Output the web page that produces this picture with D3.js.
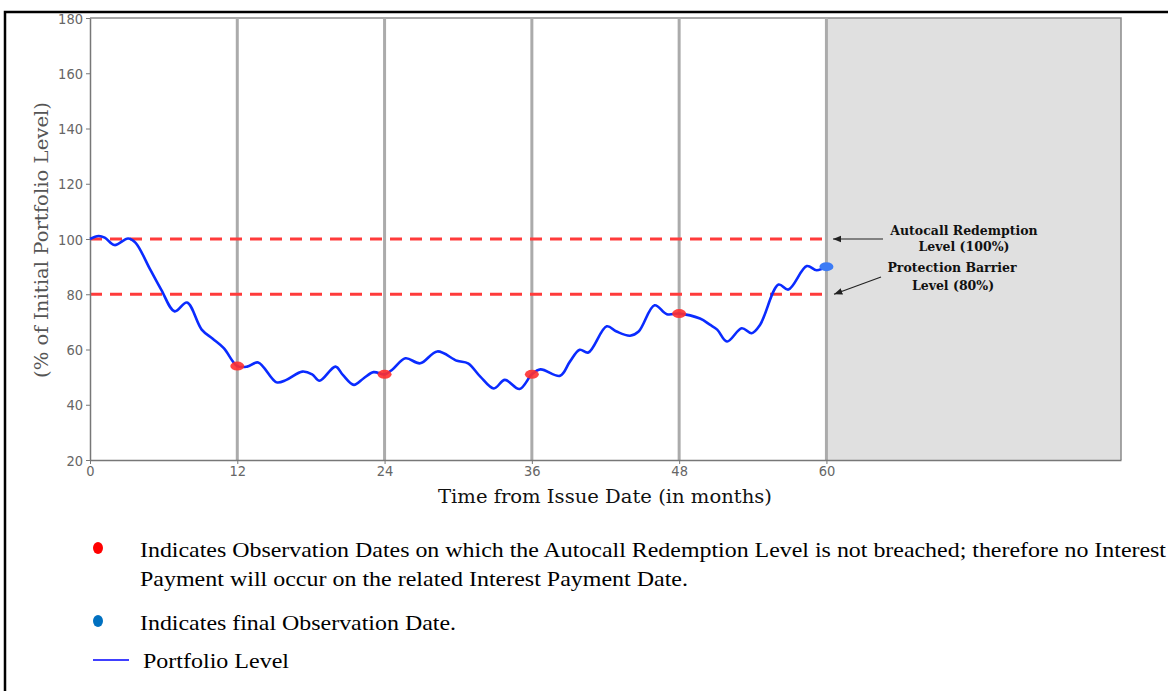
<!DOCTYPE html>
<html>
<head>
<meta charset="utf-8">
<script src="https://cdn.jsdelivr.net/npm/d3@7"></script>
<style>
  body { margin: 0; background: #fff; }
  svg { display: block; }
</style>
</head>
<body>
<svg id="chart" width="1168" height="691"></svg>
<script>
// portfolio path, months vs % of initial level
var months = [0, 0.7, 1.2, 2.0, 3.1, 3.7, 4.9, 5.8, 6.9, 7.9, 9.1, 10.0, 10.9, 12, 12.8, 13.7, 15.2, 16, 17.3, 18.1,
  18.7, 20, 20.6, 21.5, 22.3, 23.1, 24, 24.6, 25.7, 26.9, 28.3, 29.9, 30.8, 31.8, 32.9, 33.8, 35, 36, 36.7, 38.3,
  39.1, 39.9, 40.6, 42.1, 42.9, 44, 44.7, 46, 47, 48, 49.7, 50.5, 51.1, 51.9, 53.1, 53.9, 54.6, 56.1, 56.9, 58.4, 59.2, 60];
var levels = [100, 101.1, 100.5, 97.8, 100.2, 98.7, 89, 81.7, 73.8, 77, 67.2, 63.9, 60.5, 54, 53.8, 55.3, 48.1, 49, 52, 51,
  48.7, 53.8, 50.8, 47.2, 49.6, 51.8, 51, 52.6, 56.8, 55, 59.3, 55.9, 55, 50.2, 45.9, 49, 45.7, 51, 52.8, 50.5,
  55.6, 59.9, 58.9, 68.4, 66.5, 65, 66.5, 76, 72.8, 73, 71.2, 69, 67.2, 62.9, 67.7, 65.9, 69, 83.5, 81.7, 90.2, 88.7, 90];
var obsMonths = [12, 24, 36, 48];
var obsLevels = [54, 51, 51, 73];
var finalMonth = [60];
var finalLevel = [90];
var barriers = [100, 80];
var xTicks = [0, 12, 24, 36, 48, 60];
var yTicks = [20, 40, 60, 80, 100, 120, 140, 160, 180];

var svg = d3.select("#chart");
var x = d3.scaleLinear().domain([0, 84]).range([90, 1121]);
var y = d3.scaleLinear().domain([20, 180]).range([460, 18]);

// outer box (only left and top show)
svg.append("path").attr("d", "M5 691 L5 12 L1168 12").attr("fill", "none").attr("stroke", "#000").attr("stroke-width", 2.5);

// shaded region after maturity
svg.append("rect")
  .attr("x", x(60)).attr("y", y(180)).attr("width", x(84) - x(60)).attr("height", y(20) - y(180))
  .attr("fill", "#e0e0e0");

// plot frame top/right
svg.append("path")
  .attr("d", "M" + x(0) + " " + y(180) + " L" + x(84) + " " + y(180) + " L" + x(84) + " " + y(20))
  .attr("fill", "none").attr("stroke", "#8a8a8a").attr("stroke-width", 1.5);

// vertical lines at observation dates
svg.append("g").selectAll("line").data(xTicks.slice(1)).join("line")
  .attr("x1", d => x(d)).attr("x2", d => x(d))
  .attr("y1", y(180)).attr("y2", y(20))
  .attr("stroke", "#ababab").attr("stroke-width", 3);

// barrier lines
svg.append("g").selectAll("line").data(barriers).join("line")
  .attr("x1", x(0)).attr("x2", x(60))
  .attr("y1", d => y(d)).attr("y2", d => y(d))
  .attr("stroke", "#ff3b3b").attr("stroke-width", 3).attr("stroke-dasharray", "12,8");

// axes
var yAxis = svg.append("g").attr("transform", "translate(" + x(0) + ",0)")
  .call(d3.axisLeft(y).tickValues(yTicks).tickSize(4).tickSizeOuter(0).tickPadding(3));
var xAxis = svg.append("g").attr("transform", "translate(0," + y(20) + ")")
  .call(d3.axisBottom(x).tickValues(xTicks).tickSize(4).tickSizeOuter(0).tickPadding(2));
[yAxis, xAxis].forEach(function(a) {
  a.select(".domain").attr("stroke", "#777").attr("stroke-width", 1.5);
  a.selectAll(".tick line").attr("stroke", "#777");
  a.selectAll(".tick text").attr("fill", "#666").attr("font-family", "DejaVu Sans Condensed, DejaVu Sans").attr("font-size", 14.5);
});
yAxis.selectAll(".tick text").attr("dy", "0.36em");

// portfolio line
var pts = months.map((m, i) => [m, levels[i]]);
var line = d3.line().x(d => x(d[0])).y(d => y(d[1])).curve(d3.curveCatmullRom.alpha(0.5));
svg.append("path").datum(pts).attr("d", line)
  .attr("fill", "none").attr("stroke", "#0a2bff").attr("stroke-width", 2.6).attr("stroke-linejoin", "round");

// observation markers
svg.append("g").selectAll("ellipse").data(obsMonths).join("ellipse")
  .attr("cx", d => x(d)).attr("cy", (d, i) => y(obsLevels[i]))
  .attr("rx", 7).attr("ry", 4.5).attr("fill", "#ff3030").attr("opacity", 0.9);
svg.append("g").selectAll("ellipse").data(finalMonth).join("ellipse")
  .attr("cx", d => x(d)).attr("cy", (d, i) => y(finalLevel[i]))
  .attr("rx", 7).attr("ry", 4.5).attr("fill", "#3d7cf5");

// axis titles
svg.append("text").attr("transform", "translate(48,240) rotate(-90)")
  .attr("text-anchor", "middle").attr("font-family", "DejaVu Serif").attr("font-size", 18).attr("fill", "#555")
  .attr("textLength", 276).attr("lengthAdjust", "spacingAndGlyphs")
  .text("(% of Initial Portfolio Level)");
svg.append("text").attr("x", 605).attr("y", 503)
  .attr("text-anchor", "middle").attr("font-family", "DejaVu Serif").attr("font-size", 18).attr("fill", "#111")
  .attr("textLength", 334).attr("lengthAdjust", "spacingAndGlyphs")
  .text("Time from Issue Date (in months)");

// annotations
svg.append("defs").append("marker").attr("id", "arr").attr("viewBox", "0 0 10 10")
  .attr("refX", 10).attr("refY", 5).attr("markerWidth", 7).attr("markerHeight", 7).attr("orient", "auto")
  .append("path").attr("d", "M0 1 L10 5 L0 9 z").attr("fill", "#222");
svg.append("line").attr("x1", 883).attr("y1", y(100)).attr("x2", 833).attr("y2", y(100))
  .attr("stroke", "#222").attr("stroke-width", 1.2).attr("marker-end", "url(#arr)");
svg.append("line").attr("x1", 881).attr("y1", 277).attr("x2", 834).attr("y2", y(80))
  .attr("stroke", "#222").attr("stroke-width", 1.2).attr("marker-end", "url(#arr)");
var notes = [["Autocall Redemption", 964, 235], ["Level (100%)", 964, 251], ["Protection Barrier", 952, 272], ["Level (80%)", 953, 290]];
svg.append("g").selectAll("text").data(notes).join("text")
  .attr("x", d => d[1]).attr("y", d => d[2]).attr("text-anchor", "middle")
  .attr("font-family", "DejaVu Serif").attr("font-weight", "bold").attr("font-size", 12.5).attr("fill", "#111")
  .text(d => d[0]);

// legend below the chart
var lg = svg.append("g").attr("font-family", "Liberation Serif").attr("font-size", 22).attr("fill", "#000");
lg.append("ellipse").attr("cx", 98).attr("cy", 548).attr("rx", 5).attr("ry", 6).attr("fill", "#ff0000");
lg.append("text").attr("x", 140).attr("y", 557).attr("textLength", 1026).attr("lengthAdjust", "spacingAndGlyphs")
  .text("Indicates Observation Dates on which the Autocall Redemption Level is not breached; therefore no Interest");
lg.append("text").attr("x", 140).attr("y", 586).attr("textLength", 548).attr("lengthAdjust", "spacingAndGlyphs")
  .text("Payment will occur on the related Interest Payment Date.");
lg.append("ellipse").attr("cx", 98).attr("cy", 621).attr("rx", 5).attr("ry", 6).attr("fill", "#0070c0");
lg.append("text").attr("x", 140).attr("y", 630).attr("textLength", 316).attr("lengthAdjust", "spacingAndGlyphs")
  .text("Indicates final Observation Date.");
lg.append("line").attr("x1", 93).attr("x2", 129).attr("y1", 660).attr("y2", 660).attr("stroke", "#0000ff").attr("stroke-width", 1.5);
lg.append("text").attr("x", 143).attr("y", 668).attr("textLength", 146).attr("lengthAdjust", "spacingAndGlyphs")
  .text("Portfolio Level");
</script>
</body>
</html>
